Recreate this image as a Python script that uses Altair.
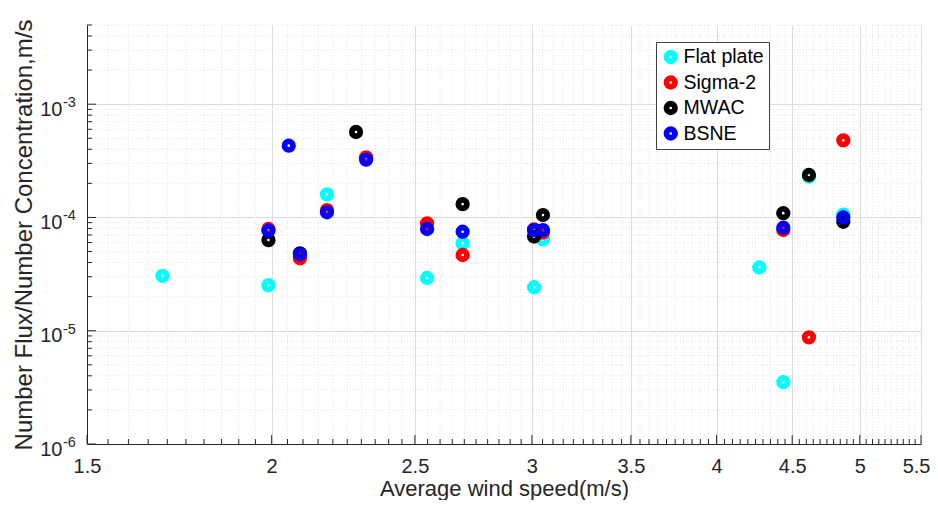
import altair as alt
import pandas as pd

# ---- data ----
series_names = ["Flat plate", "Sigma-2", "MWAC", "BSNE"]
series_colors = ["#00ffff", "#ff0000", "#000000", "#0000ff"]

flat_x = [1.687, 1.99, 2.18, 2.548, 2.693, 3.01, 3.052, 4.275, 4.438, 4.619, 4.873]
flat_y = [3.05e-5, 2.52e-5, 1.60e-4, 2.92e-5, 5.90e-5, 2.42e-5, 6.40e-5, 3.62e-5, 3.51e-6, 2.29e-4, 1.06e-4]

sigma_x = [1.99, 2.09, 2.18, 2.317, 2.548, 2.693, 3.01, 3.052, 4.438, 4.619, 4.873]
sigma_y = [7.91e-5, 4.36e-5, 1.16e-4, 3.39e-4, 8.87e-5, 4.66e-5, 7.85e-5, 7.36e-5, 7.74e-5, 8.74e-6, 4.79e-4]

mwac_x = [1.99, 2.09, 2.281, 2.693, 3.01, 3.052, 4.438, 4.619, 4.873]
mwac_y = [6.31e-5, 4.82e-5, 5.68e-4, 1.31e-4, 6.78e-5, 1.05e-4, 1.09e-4, 2.37e-4, 9.16e-5]

bsne_x = [1.99, 2.054, 2.09, 2.18, 2.317, 2.548, 2.693, 3.01, 3.052, 4.438, 4.873]
bsne_y = [7.64e-5, 4.30e-4, 4.75e-5, 1.11e-4, 3.24e-4, 7.91e-5, 7.48e-5, 7.74e-5, 7.74e-5, 8.11e-5, 1.00e-4]

x_major = [1.5, 2, 2.5, 3, 3.5, 4, 4.5, 5, 5.5]
y_major = [1e-6, 1e-5, 1e-4, 1e-3]
y_exponents = ["-6", "-5", "-4", "-3"]

# ---- tables ----
rows = []
for name, xs, ys in zip(series_names, [flat_x, sigma_x, mwac_x, bsne_x], [flat_y, sigma_y, mwac_y, bsne_y]):
    for xv, yv in zip(xs, ys):
        rows.append({"series": name, "speed": xv, "ratio": yv})
df = pd.DataFrame(rows)

x_minor = [round(1.5 + 0.05 * i, 2) for i in range(81) if i % 10 != 0]
y_minor = [m * 10.0 ** k for k in range(-6, -2) for m in range(2, 10) if m * 10.0 ** k <= 5e-3]

df_xmaj = pd.DataFrame({"speed": x_major})
df_xmin = pd.DataFrame({"speed": x_minor})
df_ymaj = pd.DataFrame({"ratio": y_major, "exp": y_exponents})
df_ymin = pd.DataFrame({"ratio": y_minor})

W, H = 834, 419
FONT = "Liberation Sans"
INK = "#262626"

xscale = alt.Scale(type="log", domain=[1.5, 5.5], nice=False)
yscale = alt.Scale(type="log", domain=[1e-6, 5e-3], nice=False)

xaxis = alt.Axis(
    values=x_major, format="~g", grid=True, gridColor="#dcdcdc", gridWidth=1,
    ticks=False, tickSize=0, domainColor=INK, domainWidth=1,
    labelFont=FONT, labelFontSize=20, labelColor=INK, labelPadding=12,
    labelFlush=False, labelOverlap=False,
    labelAlign={"condition": {"test": "datum.value >= 5.4", "value": "right"}, "value": "center"},
    labelOffset={"condition": {"test": "datum.value >= 5.4", "value": 9}, "value": 0},
    title="Average wind speed(m/s)", titleFont=FONT, titleFontSize=22,
    titleFontWeight="normal", titleColor=INK, titlePadding=2,
)
yaxis = alt.Axis(
    values=y_major, grid=True, gridColor="#dcdcdc", gridWidth=1,
    labelExpr="'10'", labelOffset=5,
    ticks=False, tickSize=0, domainColor=INK, domainWidth=1,
    labelFont=FONT, labelFontSize=20, labelColor=INK, labelPadding=25,
    labelFlush=False, labelOverlap=False,
    title="Number Flux/Number Concentration,m/s", titleFont=FONT, titleFontSize=24,
    titleFontWeight="normal", titleColor=INK, titlePadding=3,
)

X = alt.X("speed:Q", scale=xscale, axis=xaxis)
Y = alt.Y("ratio:Q", scale=yscale, axis=yaxis)

minor_grid_x = alt.Chart(df_xmin).mark_rule(color="#e4e4e4", strokeDash=[1, 2], strokeWidth=1).encode(x=X)
minor_grid_y = alt.Chart(df_ymin).mark_rule(color="#e4e4e4", strokeDash=[1, 2], strokeWidth=1).encode(y=Y)

xtick_major = alt.Chart(df_xmaj).mark_rule(color=INK, strokeWidth=1).encode(
    x=X, y=alt.value(H), y2=alt.value(H - 9))
xtick_minor = alt.Chart(df_xmin).mark_rule(color=INK, strokeWidth=1).encode(
    x=X, y=alt.value(H), y2=alt.value(H - 5))
ytick_major = alt.Chart(df_ymaj).mark_rule(color=INK, strokeWidth=1).encode(
    y=Y, x=alt.value(0), x2=alt.value(9))
ytick_minor = alt.Chart(df_ymin).mark_rule(color=INK, strokeWidth=1).encode(
    y=Y, x=alt.value(0), x2=alt.value(5))

# exponents of the y tick labels (10^-k)
y_exp_text = alt.Chart(df_ymaj).mark_text(
    align="left", baseline="top", font=FONT, fontSize=14.5, color=INK, dy=-8
).encode(y=Y, x=alt.value(-24), text="exp:N")

points = alt.Chart(df).mark_point(filled=False, shape="circle", size=72, strokeWidth=5.8, opacity=1).encode(
    x=X, y=Y,
    color=alt.Color(
        "series:N",
        scale=alt.Scale(domain=series_names, range=series_colors),
        legend=alt.Legend(
            title=None, orient="none", legendX=569, legendY=17,
            fillColor="white", strokeColor="#404040", padding=5,
            labelFont=FONT, labelFontSize=19.5, labelColor="black", labelOffset=3,
            symbolType="circle", symbolSize=72, symbolStrokeWidth=5.8, symbolOpacity=1,
            clipHeight=20, rowPadding=5.5,
        ),
    ),
)

chart = alt.layer(
    minor_grid_x, minor_grid_y, xtick_minor, xtick_major, ytick_minor, ytick_major, y_exp_text, points
).properties(
    width=W, height=H,
    autosize=alt.AutoSizeParams(type="none"),
    padding={"left": 79, "top": 17, "right": 9, "bottom": 56},
).configure_view(stroke=None)

chart.save("out.html", embed_options={"renderer": "svg", "actions": False})
